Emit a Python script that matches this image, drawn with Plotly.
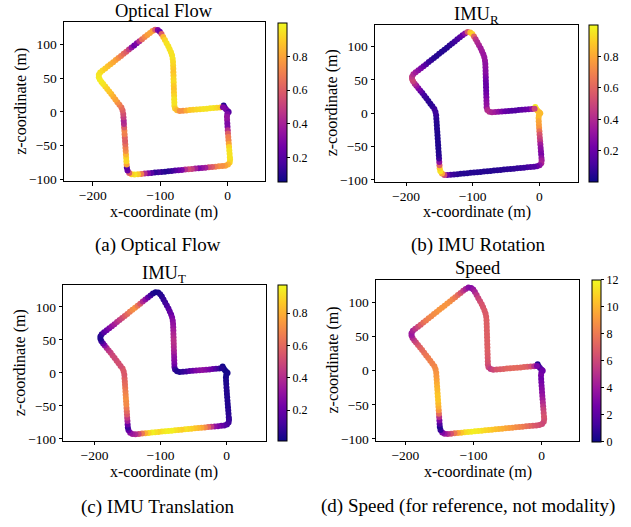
import plotly.graph_objects as go

W, H = 631, 527

# ---------------- trajectory (x, z in metres) ----------------
X = [-6, -4.5, -2.5, 0, 1.5, -0.5, -1,
     -0.8, -0.5, -0.2, 0.2, 0.5, 0.9, 1.3, 1.7, 2.1, 2.5, 2.9, 3.3,
     3.6, 3, 0.5, -3.5, -8,
     -13, -18, -23, -28, -33, -38, -43, -48, -53, -58, -63, -68, -73, -78, -83, -88, -93,
     -98, -103, -108, -113, -118, -123, -128, -133, -138,
     -142.5, -146, -148.5, -149.5,
     -149.8, -150.1, -150.5, -150.8, -151.1, -151.5, -151.8, -152.1, -152.5, -152.8, -153.1,
     -153.5, -153.8, -154.1, -154.5, -154.8,
     -155.8, -157.5, -160.5,
     -163.5, -166.5, -169.5, -172.5, -175.5, -178.5, -181.5, -184.5, -187,
     -189.5, -191, -191, -189, -185.5,
     -181.5, -177.6, -173.7, -169.8, -165.9, -162, -158.1, -154.2, -150.3, -146.4, -142.5,
     -138.6, -134.7, -130.8, -126.9, -123, -119.1, -115.2,
     -111.5, -107.5, -103.5, -100.5,
     -98, -95.5, -93, -90.5, -88, -86, -84,
     -82.5, -81.5, -81, -80.8, -80.6, -80.5, -80.3, -80.2, -80, -79.9, -79.7, -79.6, -79.4,
     -79.3, -79.1, -79,
     -78, -75, -71,
     -66, -61, -56, -51, -46, -41, -36, -31, -26, -21, -16, -11,
     -7]
Z = [9.5, 6.5, 4, 1.5, 0, -3, -7,
     -12, -17, -22, -27, -32, -37, -42, -47, -52, -57, -62, -67,
     -71, -75, -78, -79.6, -80.2,
     -80.6, -81.1, -81.6, -82.1, -82.6, -83.1, -83.5, -84.0, -84.5, -85.0, -85.5, -86.0, -86.5,
     -87.0, -87.5, -88.0, -88.5, -88.9, -89.4, -89.9, -90.4, -90.9, -91.4, -91.9, -92.4, -92.8,
     -92.5, -90.5, -87, -82.5,
     -78, -73, -68, -63, -58, -53, -48, -43, -38, -33, -28, -23, -18, -13, -8, -3,
     2, 6.5, 10.5,
     14.5, 18.5, 22.5, 26.5, 30.3, 34, 37.7, 41.3, 44.5,
     48, 51.5, 55, 58.5, 61.5,
     64.5, 67.6, 70.7, 73.8, 76.9, 80, 83.1, 86.2, 89.3, 92.4, 95.5, 98.6, 101.7, 104.8,
     107.9, 111, 114.1, 117.2,
     120, 122, 121.5, 119,
     115.5, 111, 106.5, 102, 97.5, 93, 88.5,
     84, 79, 74, 69, 64, 59, 54, 49, 44, 39, 34, 29, 24, 19, 14, 9,
     5, 2.5, 1.5,
     1.8, 2.2, 2.7, 3.1, 3.5, 4, 4.4, 4.8, 5.3, 5.7, 6.2, 6.6,
     7]

# ---------------- per-point values of each modality ----------------
OPTICAL_FLOW = [0.1, 0.2, 0.25, 0.3, 0.2, 0.3, 0.35,
                0.35, 0.3, 0.3, 0.45, 0.6, 0.7, 0.72, 0.8, 0.92, 0.95, 0.95, 0.95,
                0.95, 0.92, 0.85, 0.8, 0.75,
                0.75, 0.7, 0.6, 0.55, 0.4, 0.35, 0.3, 0.4, 0.5, 0.55, 0.45, 0.3, 0.25, 0.2, 0.15,
                0.12, 0.1, 0.12, 0.15, 0.12, 0.2, 0.3, 0.45, 0.7, 0.9, 0.95,
                0.9, 0.6, 0.25, 0.2,
                0.8, 0.92, 0.92, 0.85, 0.75, 0.7, 0.65, 0.6, 0.62, 0.7, 0.72, 0.6, 0.45, 0.42, 0.5, 0.55,
                0.6, 0.65, 0.7,
                0.75, 0.8, 0.82, 0.85, 0.88, 0.9, 0.92, 0.95, 0.96,
                0.97, 0.97, 0.96, 0.95, 0.93,
                0.9, 0.88, 0.85, 0.82, 0.8, 0.75, 0.7, 0.65, 0.6, 0.5, 0.35, 0.25, 0.3, 0.45, 0.65,
                0.72, 0.78, 0.8,
                0.8, 0.6, 0.3, 0.25,
                0.6, 0.85, 0.92, 0.95, 0.95, 0.95, 0.95,
                0.95, 0.95, 0.93, 0.92, 0.9, 0.88, 0.9, 0.92, 0.93, 0.9, 0.88, 0.9, 0.92, 0.95, 0.95, 0.95,
                0.9, 0.85, 0.75,
                0.75, 0.82, 0.88, 0.9, 0.92, 0.93, 0.95, 0.95, 0.95, 0.95, 0.93, 0.9,
                0.3]
IMU_ROTATION = [0.97, 0.95, 0.9, 0.85, 0.85, 0.85, 0.85,
                0.8, 0.78, 0.75, 0.65, 0.55, 0.5, 0.45, 0.35, 0.3, 0.28, 0.25, 0.3,
                0.35, 0.38, 0.3, 0.2, 0.15,
                0.15, 0.12, 0.1, 0.1, 0.08, 0.08, 0.07, 0.07, 0.06, 0.06, 0.06, 0.05, 0.05, 0.05, 0.05,
                0.05, 0.05, 0.05, 0.05, 0.05, 0.05, 0.05, 0.06, 0.08, 0.1, 0.2,
                0.5, 0.8, 0.95, 0.9,
                0.6, 0.3, 0.1, 0.06, 0.05, 0.04, 0.04, 0.04, 0.04, 0.04, 0.04, 0.05, 0.05, 0.05, 0.06, 0.08,
                0.1, 0.1, 0.08,
                0.06, 0.06, 0.08, 0.1, 0.12, 0.18, 0.25, 0.32, 0.4,
                0.48, 0.5, 0.45, 0.4, 0.35,
                0.3, 0.25, 0.2, 0.15, 0.1, 0.08, 0.06, 0.05, 0.05, 0.05, 0.05, 0.05, 0.06, 0.08, 0.1,
                0.12, 0.15, 0.2,
                0.3, 0.55, 0.85, 0.9,
                0.6, 0.45, 0.4, 0.38, 0.35, 0.35, 0.33,
                0.33, 0.32, 0.3, 0.3, 0.28, 0.28, 0.25, 0.22, 0.2, 0.2, 0.2, 0.22, 0.25, 0.28, 0.3, 0.32,
                0.4, 0.42, 0.38,
                0.35, 0.3, 0.25, 0.2, 0.18, 0.15, 0.15, 0.15, 0.18, 0.2, 0.22, 0.3,
                0.5]
IMU_TRANSLATION = [0.02, 0.02, 0.02, 0.02, 0.03, 0.03, 0.03,
                   0.04, 0.04, 0.05, 0.05, 0.05, 0.05, 0.05, 0.05, 0.05, 0.06, 0.06, 0.07,
                   0.08, 0.1, 0.12, 0.15, 0.2,
                   0.25, 0.3, 0.45, 0.6, 0.7, 0.78, 0.82, 0.85, 0.88, 0.9, 0.92, 0.88, 0.9, 0.92, 0.95,
                   0.95, 0.95, 0.93, 0.9, 0.92, 0.95, 0.9, 0.8, 0.65, 0.5, 0.4,
                   0.35, 0.3, 0.2, 0.1,
                   0.2, 0.35, 0.45, 0.55, 0.6, 0.65, 0.7, 0.7, 0.72, 0.7, 0.68, 0.65, 0.62, 0.6, 0.58, 0.55,
                   0.55, 0.55, 0.52,
                   0.52, 0.52, 0.5, 0.5, 0.48, 0.45, 0.4, 0.3, 0.2,
                   0.1, 0.05, 0.05, 0.08, 0.15,
                   0.2, 0.25, 0.3, 0.35, 0.4, 0.45, 0.5, 0.55, 0.6, 0.65, 0.7, 0.72, 0.65, 0.55, 0.4,
                   0.3, 0.2, 0.12,
                   0.05, 0.03, 0.03, 0.05,
                   0.06, 0.08, 0.1, 0.12, 0.15, 0.18, 0.2,
                   0.25, 0.28, 0.3, 0.32, 0.35, 0.38, 0.4, 0.42, 0.42, 0.4, 0.38, 0.35, 0.3, 0.28, 0.25, 0.2,
                   0.1, 0.05, 0.05,
                   0.08, 0.1, 0.15, 0.2, 0.25, 0.28, 0.3, 0.28, 0.25, 0.2, 0.15, 0.1,
                   0.05]
SPEED = [0.5, 1.0, 1.5, 2.0, 2.5, 2.5, 2.8,
         2.5, 2.8, 3.0, 3.3, 3.5, 3.8, 4.2, 4.8, 5.3, 5.8, 6.2, 6.5,
         6.5, 6.3, 6.0, 6.2, 6.5,
         6.8, 7.2, 7.6, 8.0, 8.3, 8.6, 8.9, 9.2, 9.5, 9.8, 10, 10.3, 10.5, 10.8, 11,
         11.2, 11.5, 11.6, 11.7, 11.5, 11.2, 10.5, 9.5, 8, 6.5, 5,
         4, 3, 1, 0.5,
         1.5, 3, 5, 7.5, 9, 9.8, 10.2, 10.5, 10.5, 10.5, 10.2, 10, 9.8, 9.5, 9.2, 9,
         8.8, 8.6, 8.4,
         8.3, 8.2, 8.0, 7.8, 7.5, 7.2, 6.8, 6.3, 5.8,
         5, 4.2, 4, 4.5, 5.3,
         6, 6.8, 7.5, 8, 8.3, 8.5, 8.7, 8.8, 9, 9, 9, 9, 8.8, 8.5, 8,
         7.5, 6.5, 5.5,
         4.5, 3.5, 3.2, 3.8,
         4.5, 5.2, 5.8, 6.2, 6.5, 6.6, 6.8,
         6.8, 6.9, 7, 7, 7, 7, 7, 7, 7, 7, 7, 7, 6.9, 6.8, 6.6, 6.4,
         6, 5.5, 6,
         6.5, 6.8, 7, 7.2, 7.3, 7.4, 7.4, 7.3, 7.2, 7, 6.5, 5,
         3]

TITLES = ["Optical Flow", "IMU<sub>R</sub>", "IMU<sub>T</sub>", "Speed"]
CAPTIONS = ["(a) Optical Flow", "(b) IMU Rotation", "(c) IMU Translation",
            "(d) Speed (for reference, not modality)"]
CBAR_RANGES = [(0.057, 1.0), (0.004, 1.0), (0.01, 0.975), (0.0, 12.0)]
CBAR_TICKS = [[0.2, 0.4, 0.6, 0.8], [0.2, 0.4, 0.6, 0.8], [0.2, 0.4, 0.6, 0.8],
              [0, 2, 4, 6, 8, 10, 12]]
X_TICKS = [-200, -100, 0]
Z_TICKS = [-100, -50, 0, 50, 100]
X_RANGE = [-203, 15]
Z_RANGE = [-103, 133]

SERIES = [OPTICAL_FLOW, IMU_ROTATION, IMU_TRANSLATION, SPEED]

# layout boxes in pixels: (left, right, top, bottom), colorbar (left, right, top, bottom)
BOXES = [(64, 264.5, 22.5, 183.5), (375, 578.3, 25, 184),
         (63.3, 265.7, 288.3, 446), (376, 579.3, 283.3, 446)]
CBOXES = [(277.5, 286, 23, 184), (589.3, 598.3, 25, 184),
          (277.7, 286.7, 288.3, 446), (591.7, 600.7, 283.3, 446.7)]
# title placement: (y px, anchor)
TITLE_POS = [(23, "bottom"), (2, "top"), (264, "top"), (283.5, "bottom")]
CAPTION_POS = [(157.5, 248), (478, 248), (157.5, 513), (468, 512)]
XLABEL_Y = [214, 214.5, 477, 477]

FONT = "Liberation Serif"


def px(x):
    return x / W


def py(y):
    return 1 - y / H


fig = go.Figure()
annotations = []

for i in range(4):
    l, r, t, b = BOXES[i]
    cl, cr, ct, cb = CBOXES[i]
    sfx = "" if i == 0 else str(i + 1)
    cmin, cmax = CBAR_RANGES[i]
    fig.add_trace(go.Scatter(
        x=X, y=Z, mode="markers",
        xaxis="x" + sfx, yaxis="y" + sfx,
        marker=dict(
            size=6, color=SERIES[i], colorscale="Plasma", cmin=cmin, cmax=cmax,
            line=dict(width=0),
            colorbar=dict(
                x=px(cl), xanchor="left", xpad=0,
                y=py((ct + cb) / 2), yanchor="middle", ypad=0,
                len=(cb - ct) / H, lenmode="fraction",
                thickness=cr - cl, thicknessmode="pixels",
                outlinewidth=1, outlinecolor="black",
                ticks="outside", ticklen=3, tickwidth=0.8, tickcolor="black",
                tickvals=CBAR_TICKS[i],
                tickfont=dict(family=FONT, size=12, color="black"),
            ),
        ),
        showlegend=False,
        hoverinfo="skip",
    ))
    axstyle = dict(showline=True, mirror=True, linecolor="black", linewidth=1,
                   ticks="outside", ticklen=3.5, tickwidth=0.8, tickcolor="black",
                   showgrid=False, zeroline=False,
                   tickfont=dict(family=FONT, size=13.5, color="black"))
    fig.update_layout(**{
        "xaxis" + sfx: dict(domain=[px(l), px(r)], anchor="y" + sfx, range=X_RANGE,
                            tickvals=X_TICKS, ticklabelstandoff=-2, **axstyle),
        "yaxis" + sfx: dict(domain=[py(b), py(t)], anchor="x" + sfx, range=Z_RANGE,
                            tickvals=Z_TICKS, scaleanchor="x" + sfx, scaleratio=1,
                            **axstyle),
    })
    cx = (l + r) / 2
    ty, tanchor = TITLE_POS[i]
    annotations.append(dict(text=TITLES[i], x=px(cx), y=py(ty), xref="paper", yref="paper",
                            xanchor="center", yanchor=tanchor, showarrow=False,
                            font=dict(family=FONT, size=18.5, color="black")))
    annotations.append(dict(text="x-coordinate (m)", x=px(cx), y=py(XLABEL_Y[i]),
                            xref="paper", yref="paper", xanchor="center", yanchor="middle",
                            showarrow=False, font=dict(family=FONT, size=16, color="black")))
    annotations.append(dict(text="z-coordinate (m)", x=px(l - 43), y=py((t + b) / 2),
                            xref="paper", yref="paper", xanchor="center", yanchor="middle",
                            textangle=-90, showarrow=False,
                            font=dict(family=FONT, size=16, color="black")))
    cxp, cyp = CAPTION_POS[i]
    annotations.append(dict(text=CAPTIONS[i], x=px(cxp), y=py(cyp), xref="paper", yref="paper",
                            xanchor="center", yanchor="middle", showarrow=False,
                            font=dict(family=FONT, size=19, color="black")))

fig.update_layout(
    width=W, height=H,
    margin=dict(l=0, r=0, t=0, b=0),
    paper_bgcolor="white", plot_bgcolor="white",
    annotations=annotations,
    font=dict(family=FONT, color="black"),
)

fig.write_html("out.html")
